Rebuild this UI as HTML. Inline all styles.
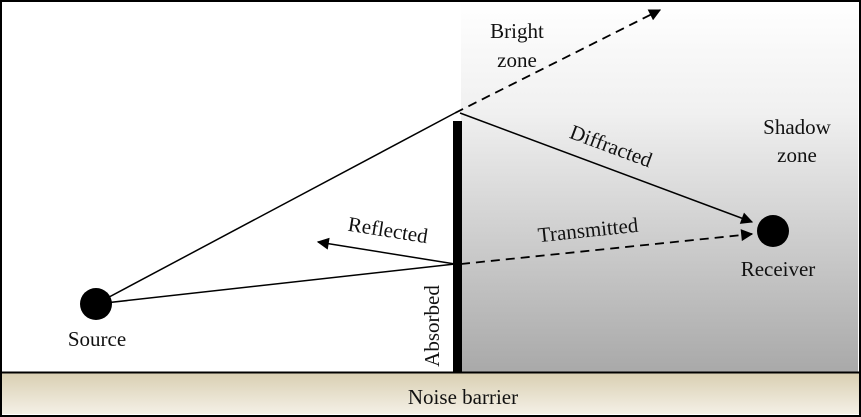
<!DOCTYPE html>
<html><head><style>
html,body{margin:0;padding:0;background:#fff;}
svg{display:block;font-family:"Liberation Serif",serif;}
</style></head><body>
<svg width="861" height="417" viewBox="0 0 861 417" xmlns="http://www.w3.org/2000/svg">
<defs>
<linearGradient id="sh" x1="0" y1="0" x2="0" y2="1">
<stop offset="0" stop-color="#ffffff"/>
<stop offset="0.3" stop-color="#f0f0f0"/>
<stop offset="1" stop-color="#a9a9a9"/>
</linearGradient>
<linearGradient id="gr" x1="0" y1="0" x2="0" y2="1">
<stop offset="0" stop-color="#d9cfb2"/>
<stop offset="1" stop-color="#f4f0e6"/>
</linearGradient>
<marker id="b" viewBox="0 0 10 10" refX="9" refY="5" markerWidth="14" markerHeight="12" orient="auto" markerUnits="userSpaceOnUse"><path d="M0,0L10,5L0,10z" fill="#000"/></marker>
</defs>
<rect x="0" y="0" width="861" height="417" fill="#fff"/>
<rect x="461" y="2" width="397" height="370" fill="url(#sh)"/>
<rect x="2" y="373" width="857" height="41" fill="url(#gr)"/>
<line x1="2" y1="372.5" x2="859" y2="372.5" stroke="#000" stroke-width="2"/>
<rect x="1" y="1" width="859" height="415" fill="none" stroke="#000" stroke-width="2"/>
<rect x="453" y="121" width="9" height="252" fill="#000"/>
<line x1="96" y1="304" x2="455" y2="113" stroke="#000" stroke-width="1.5"/>
<line x1="96" y1="304" x2="455" y2="264" stroke="#000" stroke-width="1.5"/>
<line x1="455" y1="113" x2="660" y2="10" stroke="#000" stroke-width="1.8" stroke-dasharray="9,6" marker-end="url(#b)"/>
<line x1="460" y1="113" x2="752" y2="222" stroke="#000" stroke-width="1.5" marker-end="url(#b)"/>
<line x1="455" y1="264" x2="318" y2="242" stroke="#000" stroke-width="1.5" marker-end="url(#b)"/>
<line x1="461" y1="264" x2="752" y2="234" stroke="#000" stroke-width="1.8" stroke-dasharray="9,6" marker-end="url(#b)"/>
<circle cx="96" cy="304" r="16" fill="#000"/>
<circle cx="773" cy="231" r="16" fill="#000"/>
<g font-size="21" fill="#111" text-anchor="middle">
<text x="517" y="38">Bright</text>
<text x="517" y="67">zone</text>
<text x="797" y="134">Shadow</text>
<text x="797" y="162">zone</text>
<text x="611" y="153" transform="rotate(20.5 611 146)">Diffracted</text>
<text x="588" y="237" transform="rotate(-6 588 230)">Transmitted</text>
<text x="388" y="237" transform="rotate(9 388 230)">Reflected</text>
<text x="778" y="276">Receiver</text>
<text x="97" y="346">Source</text>
<text x="446" y="333" transform="rotate(-90 439 333)">Absorbed</text>
<text x="463" y="404">Noise barrier</text>
</g>
</svg>
</body></html>
